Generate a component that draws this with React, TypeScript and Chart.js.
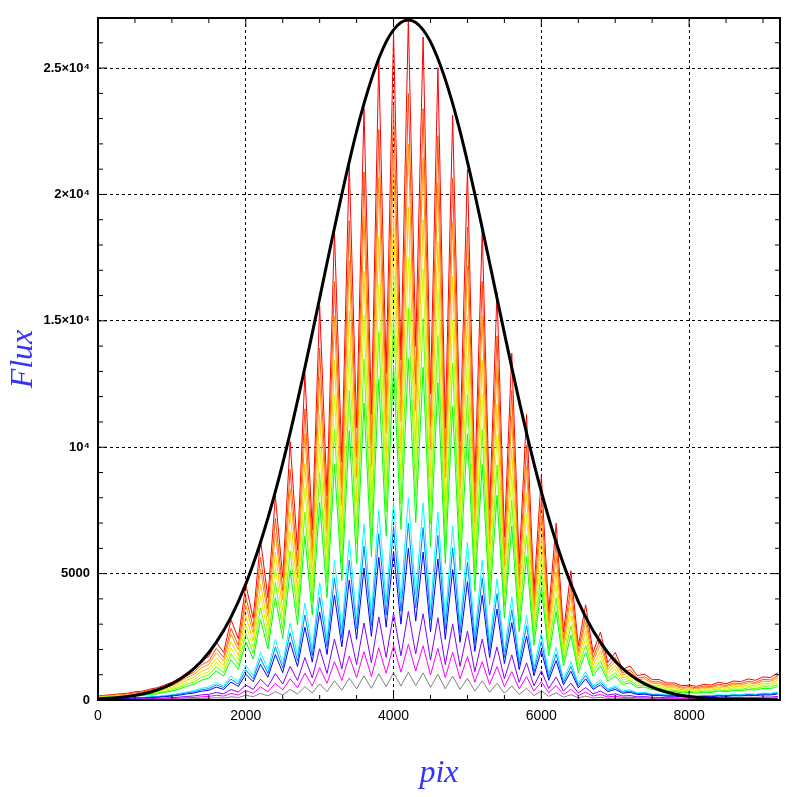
import React, { useEffect, useRef } from "react";
import { Chart, registerables } from "chart.js";
Chart.register(...registerables);

const xs: number[] = Array.from({ length: 93 }, (_, i) => i * 100);
// hand-read normalized spectral profile (noisy), x from 0 to 9200 step 100
const profile: number[] = [
  0.006, 0.007, 0.008, 0.009, 0.01, 0.012, 0.013, 0.016, 0.018, 0.022,
  0.026, 0.032, 0.04, 0.046, 0.058, 0.064, 0.085, 0.07, 0.118, 0.09,
  0.17, 0.12, 0.235, 0.15, 0.3, 0.18, 0.38, 0.22, 0.48, 0.25,
  0.58, 0.3, 0.69, 0.35, 0.79, 0.4, 0.87, 0.42, 0.94, 0.48,
  0.98, 0.5, 1.0, 0.52, 0.975, 0.45, 0.93, 0.4, 0.86, 0.38,
  0.78, 0.32, 0.69, 0.28, 0.6, 0.24, 0.51, 0.2, 0.42, 0.16,
  0.33, 0.13, 0.26, 0.1, 0.19, 0.08, 0.14, 0.07, 0.1, 0.055,
  0.07, 0.045, 0.05, 0.036, 0.038, 0.03, 0.03, 0.025, 0.025, 0.021,
  0.022, 0.02, 0.023, 0.022, 0.026, 0.024, 0.028, 0.027, 0.031, 0.029,
  0.034, 0.033, 0.04,
];
const seriesColors: string[] = ["#808080", "#ff00ff", "#8000ff", "#0000ff", "#0080ff", "#00ffff", "#00ff00", "#66ff00", "#ccff00", "#ffcc00", "#ff9900", "#ff5000", "#ff0000"];
const seriesPeaks: number[] = [1100, 2200, 3500, 6000, 7000, 8000, 13500, 15500, 17500, 19500, 22000, 24000, 26900];

const fitX: number[] = Array.from({ length: 47 }, (_, i) => i * 200);
const fitY: number[] = [
  43, 78, 138, 237, 395, 640, 1005, 1530, 2280, 3280, 4590, 6240, 8240, 10560, 13150, 15900,
  18670, 21290, 23590, 25370, 26510, 26900, 26510, 25370, 23590, 21290, 18670, 15900, 13150,
  10560, 8240, 6240, 4590, 3280, 2280, 1530, 1005, 640, 395, 237, 138, 78, 43, 30, 20, 15, 10,
];
const xTickValues: number[] = [0, 2000, 4000, 6000, 8000];
const yTickLabels: Record<number, string> = { 0: "0", 5000: "5000", 10000: "10⁴", 15000: "1.5×10⁴", 20000: "2×10⁴", 25000: "2.5×10⁴" };

export default function App() {
  const ref = useRef<HTMLCanvasElement>(null);
  useEffect(() => {
    const frame = {
      id: "frame",
      afterDraw(c: any) {
        const { ctx, chartArea: a, scales } = c;
        ctx.save();
        ctx.strokeStyle = "#000";
        ctx.lineWidth = 1;
        const tick = (x1: number, y1: number, x2: number, y2: number) => { ctx.beginPath(); ctx.moveTo(x1, y1); ctx.lineTo(x2, y2); ctx.stroke(); };
        for (let v = 0; v <= 9200; v += 500) {
          const p = scales.x.getPixelForValue(v);
          const L = v % 2000 === 0 ? 9 : 5;
          tick(p, a.bottom, p, a.bottom - L);
          tick(p, a.top, p, a.top + L);
        }
        for (let v = 0; v <= 26900; v += 1000) {
          const p = scales.y.getPixelForValue(v);
          const L = v % 5000 === 0 ? 9 : 5;
          tick(a.left, p, a.left + L, p);
          tick(a.right, p, a.right - L, p);
        }
        ctx.lineWidth = 2;
        ctx.strokeRect(a.left, a.top, a.right - a.left, a.bottom - a.top);
        ctx.restore();
      },
    };
    const datasets: any[] = [
      { data: fitX.map((x, i) => ({ x, y: fitY[i] })), borderColor: "#000", borderWidth: 3, pointRadius: 0, tension: 0.4 },
      ...seriesColors.map((col, k) => ({
        data: xs.map((x, i) => ({ x, y: profile[i] * seriesPeaks[k] })),
        borderColor: col, borderWidth: 1, pointRadius: 0,
      })),
    ];
    const ch = new Chart(ref.current!, {
      type: "line",
      data: { datasets },
      plugins: [frame],
      options: {
        animation: false, responsive: false,
        layout: { padding: { top: 18, right: 17, left: 0, bottom: 0 } },
        plugins: { legend: { display: false }, tooltip: { enabled: false } },
        scales: {
          x: {
            type: "linear", min: 0, max: 9230,
            afterBuildTicks: (s: any) => { s.ticks = xTickValues.map((v) => ({ value: v })); },
            afterFit: (s: any) => { s.height = 97; },
            ticks: { color: "#000", font: { family: "Liberation Sans", size: 14 }, padding: 8, callback: (v: any) => String(v) },
            grid: { color: "#000", lineWidth: 1, drawTicks: false },
            border: { display: false, dash: [3, 3] },
            title: { display: true, text: "pix", color: "#3333ff", font: { family: "Liberation Serif", style: "italic", size: 32 }, padding: { top: 4 } },
          },
          y: {
            type: "linear", min: 0, max: 26980,
            afterBuildTicks: (s: any) => { s.ticks = [0, 5000, 10000, 15000, 20000, 25000].map((v) => ({ value: v })); },
            afterFit: (s: any) => { s.width = 98; },
            ticks: { color: "#000", font: { family: "Liberation Sans", size: 13, weight: "bold" }, padding: 8, callback: (v: any) => yTickLabels[v] ?? "" },
            grid: { color: "#000", lineWidth: 1, drawTicks: false },
            border: { display: false, dash: [3, 3] },
            title: { display: true, text: "Flux", color: "#3333ff", font: { family: "Liberation Serif", style: "italic", size: 32 }, padding: { bottom: 0 } },
          },
        },
      } as any,
    });
    return () => ch.destroy();
  }, []);
  return (
    <div style={{ position: "absolute", left: 0, top: 0, width: 797, height: 797, background: "#fff" }}>
      <canvas ref={ref} width={797} height={797} style={{ width: 797, height: 797 }} />
    </div>
  );
}
